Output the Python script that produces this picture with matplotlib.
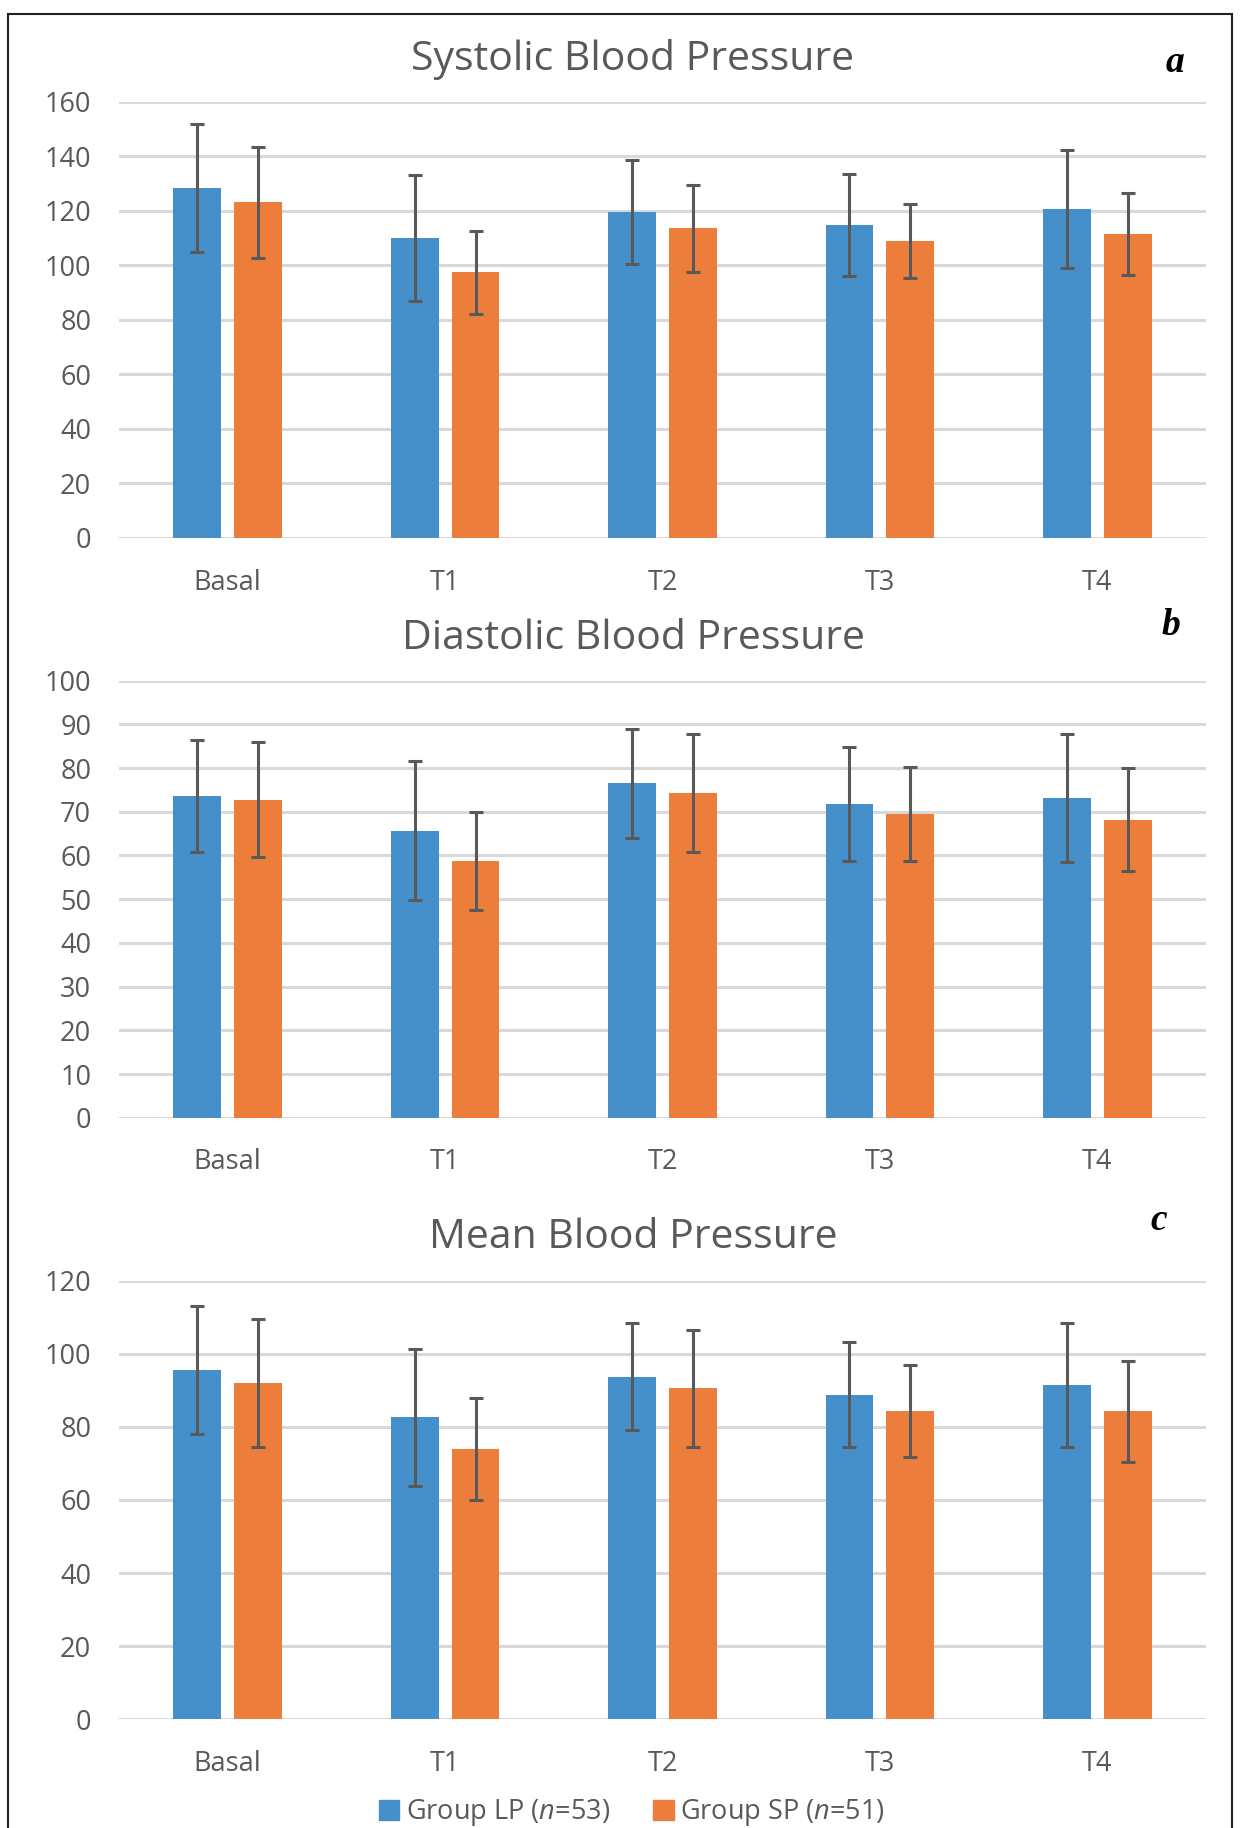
import matplotlib.pyplot as plt
from matplotlib.patches import Patch
from matplotlib.lines import Line2D
import numpy as np

plt.rcParams["font.family"] = ["Open Sans", "DejaVu Sans"]
plt.rcParams["mathtext.fontset"] = "custom"
plt.rcParams["mathtext.it"] = "Open Sans:italic"

categories = ["Basal", "T1", "T2", "T3", "T4"]

sys_lp = [128.4, 110.0, 119.5, 114.7, 120.6]
sys_lp_sd = [23.5, 23.0, 19.0, 18.8, 21.5]
sys_sp = [123.1, 97.5, 113.5, 108.9, 111.6]
sys_sp_sd = [20.3, 15.2, 16.0, 13.4, 15.0]

dia_lp = [73.6, 65.7, 76.5, 71.7, 73.2]
dia_lp_sd = [12.8, 15.8, 12.5, 13.0, 14.7]
dia_sp = [72.8, 58.7, 74.3, 69.5, 68.2]
dia_sp_sd = [13.2, 11.2, 13.6, 10.7, 11.7]

mean_lp = [95.5, 82.6, 93.7, 88.8, 91.5]
mean_lp_sd = [17.6, 18.8, 14.7, 14.3, 17.0]
mean_sp = [92.0, 74.0, 90.6, 84.4, 84.3]
mean_sp_sd = [17.6, 14.0, 16.0, 12.6, 13.8]

BLUE = "#4590cb"
ORANGE = "#ed7d3a"
GRID = "#d9d9d9"
ERR = "#595959"
TXT = "#595959"

W, H = 1244, 1828

panels = [
    # title, label, lp, lp_sd, sp, sp_sd, ymax, step, top_px, bottom_px, title_y, label_xy
    ("Systolic Blood Pressure", "a", sys_lp, sys_lp_sd, sys_sp, sys_sp_sd, 160, 20, 101.6, 538, 59, (1175, 62)),
    ("Diastolic Blood Pressure", "b", dia_lp, dia_lp_sd, dia_sp, dia_sp_sd, 100, 10, 680.6, 1117.8, 639, (1171, 626)),
    ("Mean Blood Pressure", "c", mean_lp, mean_lp_sd, mean_sp, mean_sp_sd, 120, 20, 1280.5, 1719.4, 1238, (1159, 1220)),
]

fig = plt.figure(figsize=(W / 100, H / 100), dpi=100)

x = np.arange(len(categories))
bw = 0.22
off = 0.14

for title, label, lp, lp_sd, sp, sp_sd, ymax, step, top, bottom, ty, lxy in panels:
    ax = fig.add_axes([119 / W, 1 - bottom / H, (1206 - 119) / W, (bottom - top) / H])
    ax.set_axisbelow(True)
    ekw = dict(ecolor=ERR, elinewidth=2.2, capsize=5, capthick=2.2)
    ax.bar(x - off, lp, bw, color=BLUE, yerr=lp_sd, error_kw=ekw, zorder=2)
    ax.bar(x + off, sp, bw, color=ORANGE, yerr=sp_sd, error_kw=ekw, zorder=2)
    ax.set_xlim(-0.5, len(categories) - 0.5)
    ax.set_ylim(0, ymax)
    ax.set_yticks(np.arange(0, ymax + 1, step))
    ax.yaxis.grid(True, color=GRID, linewidth=2.2)
    ax.set_xticks(x)
    ax.set_xticklabels(categories)
    for s in ax.spines.values():
        s.set_visible(False)
    ax.tick_params(length=0, labelsize=19.5, colors=TXT)
    ax.tick_params(axis="x", pad=22)
    ax.tick_params(axis="y", pad=20)
    fig.text(633 / W, 1 - ty / H, title, ha="center", va="center", fontsize=29.5, color=TXT)
    fig.text(lxy[0] / W, 1 - lxy[1] / H, label, ha="center", va="center", fontsize=27,
             fontweight="bold", fontstyle="italic", family="Liberation Serif", color="black")

handles = [Patch(color=BLUE), Patch(color=ORANGE)]
fig.legend(handles, ["Group LP ($n$=53)", "Group SP ($n$=51)"], loc="center",
           bbox_to_anchor=(632 / W, 1 - 1813 / H), ncol=2, frameon=False, fontsize=19.5,
           handlelength=0.75, handleheight=0.75, handletextpad=0.25, columnspacing=1.6,
           labelcolor=TXT)

# outer frame (top, left, right)
for xs, ys in [((8, 1232), (14, 14)), ((8, 8), (14, H)), ((1232, 1232), (14, H))]:
    fig.add_artist(Line2D([v / W for v in xs], [1 - v / H for v in ys], color="#222222", linewidth=1.5))

fig.savefig("out.png", dpi=100)
